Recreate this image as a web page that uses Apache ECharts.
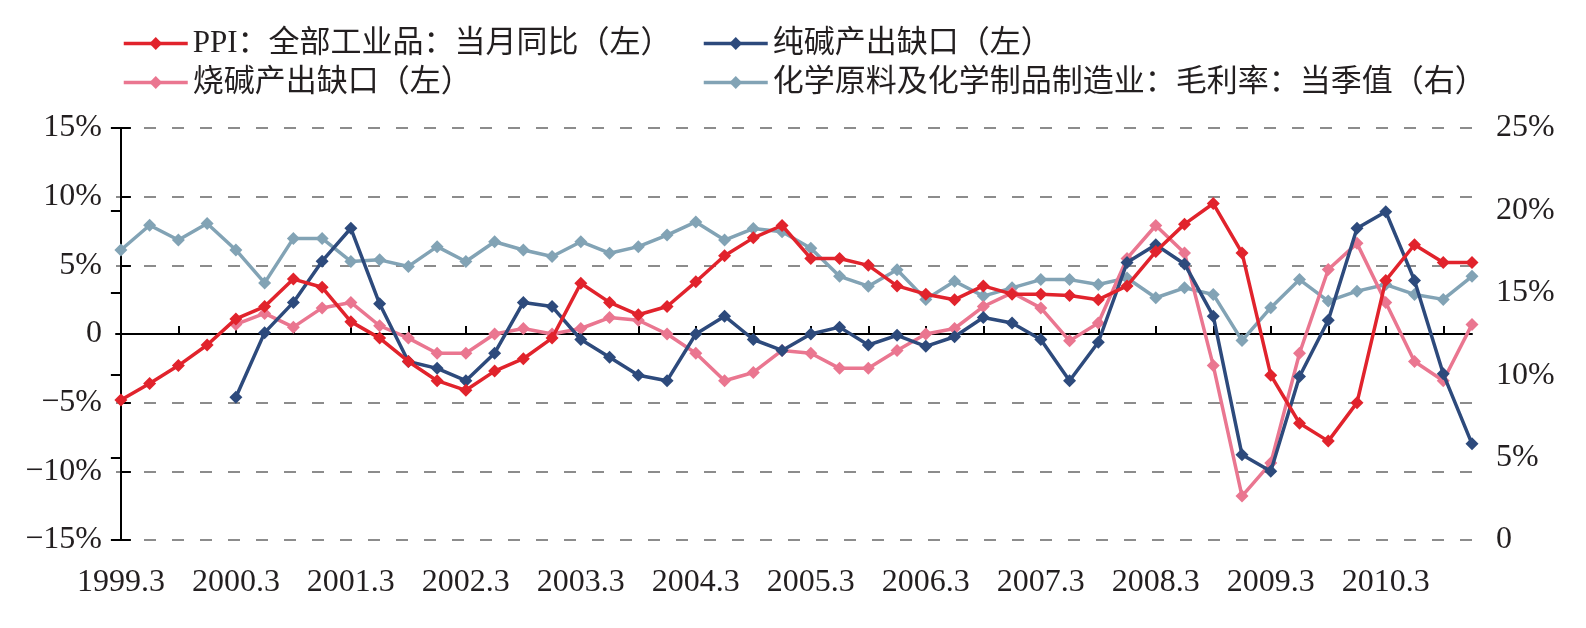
<!DOCTYPE html>
<html>
<head>
<meta charset="utf-8">
<script src="https://cdn.jsdelivr.net/npm/echarts@6/dist/echarts.min.js"></script>
<style>
html, body { margin: 0; padding: 0; background: #fff; }
#main { width: 1586px; height: 628px; }
</style>
</head>
<body>
<div id="main"></div>
<script>
// quarterly points 1999.3 .. 2010.12
var tickLabels = ['1999.3', '2000.3', '2001.3', '2002.3', '2003.3', '2004.3',
  '2005.3', '2006.3', '2007.3', '2008.3', '2009.3', '2010.3'];

var names = [
  'PPI：全部工业品：当月同比（左）',
  '纯碱产出缺口（左）',
  '烧碱产出缺口（左）',
  '化学原料及化学制品制造业：毛利率：当季值（右）'
];

var ppi = [-4.8, -3.6, -2.3, -0.8, 1.1, 2.0, 4.0, 3.4, 0.9, -0.3, -2.0, -3.4,
  -4.1, -2.7, -1.8, -0.3, 3.7, 2.3, 1.4, 2.0, 3.8, 5.7, 7.0, 7.9,
  5.5, 5.5, 5.0, 3.5, 2.9, 2.5, 3.5, 2.9, 2.9, 2.8, 2.5, 3.5,
  6.0, 8.0, 9.5, 5.9, -3.0, -6.5, -7.8, -5.0, 3.9, 6.5, 5.2, 5.2];

var sodaAsh = [null, null, null, null, -4.6, 0.1, 2.3, 5.3, 7.7, 2.2, -2.0, -2.5,
  -3.4, -1.4, 2.3, 2.0, -0.4, -1.7, -3.0, -3.4, 0.0, 1.3, -0.4, -1.2,
  0.0, 0.5, -0.8, -0.1, -0.9, -0.2, 1.2, 0.8, -0.4, -3.4, -0.6, 5.2,
  6.5, 5.1, 1.3, -8.8, -10.0, -3.1, 1.0, 7.7, 8.9, 3.9, -2.9, -8.0];

var causticSoda = [null, null, null, null, 0.7, 1.5, 0.5, 1.9, 2.3, 0.6, -0.3, -1.4,
  -1.4, 0.0, 0.4, 0.0, 0.4, 1.2, 1.0, 0.0, -1.4, -3.4, -2.8, -1.2,
  -1.4, -2.5, -2.5, -1.2, 0.0, 0.4, 2.0, 3.0, 1.9, -0.5, 0.8, 5.5,
  7.9, 5.9, -2.3, -11.8, -9.4, -1.4, 4.7, 6.6, 2.3, -2.0, -3.4, 0.7];

var grossMargin = [17.6, 19.1, 18.2, 19.2, 17.6, 15.6, 18.3, 18.3, 16.9, 17.0, 16.6, 17.8,
  16.9, 18.1, 17.6, 17.2, 18.1, 17.4, 17.8, 18.5, 19.3, 18.2, 18.9, 18.7,
  17.7, 16.0, 15.4, 16.4, 14.6, 15.7, 14.8, 15.3, 15.8, 15.8, 15.5, 15.9,
  14.7, 15.3, 14.9, 12.1, 14.1, 15.8, 14.5, 15.1, 15.5, 14.9, 14.6, 16.0];

var colors = ['#e1232c', '#2d4a7c', '#ea7690', '#82a3b5'];
var fontFamily = '"Liberation Serif", "Noto Sans CJK SC", serif';

function toPoints(arr) {
  var out = [];
  arr.forEach(function (v, i) {
    if (v !== null) out.push([i, v]);
  });
  return out;
}

function pctLabel(v) {
  if (v === 0) return '0';
  return (v < 0 ? '\u2212' + (-v) : v) + '%';
}

var labelIdx = tickLabels.map(function (t, i) { return i * 4; });
var tickIdx = [];
for (var k = 2; k < ppi.length; k += 2) tickIdx.push(k);

function lineSeries(name, arr, color, yIndex, z) {
  return {
    name: name,
    type: 'line',
    yAxisIndex: yIndex,
    data: toPoints(arr),
    symbol: 'diamond',
    symbolSize: 13,
    z: z,
    lineStyle: { color: color, width: 3.5 },
    itemStyle: { color: color }
  };
}

function legendAt(name, left, top) {
  return {
    data: [name],
    left: left,
    top: top,
    itemWidth: 64,
    itemHeight: 16,
    lineStyle: { width: 3.5 },
    textStyle: { fontSize: 31, color: '#231f20', fontFamily: fontFamily }
  };
}

var option = {
  animation: false,
  backgroundColor: '#fff',
  color: colors,
  legend: [
    legendAt(names[0], 117, 23),
    legendAt(names[1], 697, 23),
    legendAt(names[2], 117, 62),
    legendAt(names[3], 697, 62)
  ],
  grid: { left: 116, right: 114, top: 128, bottom: 88 },
  xAxis: [
    {
      type: 'value',
      min: -0.17,
      max: ppi.length - 1,
      position: 'bottom',
      axisLine: { show: false, onZero: false },
      axisTick: { show: false },
      splitLine: { show: false },
      axisLabel: {
        customValues: labelIdx,
        formatter: function (v) { return tickLabels[Math.round(v) / 4]; },
        fontSize: 32,
        color: '#231f20',
        fontFamily: fontFamily,
        margin: 27
      }
    },
    {
      type: 'value',
      min: -0.17,
      max: ppi.length - 1,
      position: 'bottom',
      axisLine: { show: true, onZero: true, onZeroAxisIndex: 0, lineStyle: { color: '#000', width: 2 } },
      axisTick: { show: true, inside: true, length: 8, customValues: tickIdx, lineStyle: { color: '#000', width: 2 } },
      axisLabel: { show: false },
      splitLine: { show: false }
    }
  ],
  yAxis: [
    {
      type: 'value',
      min: -15,
      max: 15,
      interval: 5,
      position: 'left',
      axisLine: { show: true, lineStyle: { color: '#000', width: 2 } },
      axisTick: { show: true, inside: true, length: 10, lineStyle: { color: '#000', width: 2 } },
      axisLabel: { formatter: pctLabel, fontSize: 32, color: '#231f20', fontFamily: fontFamily, margin: 14 },
      splitLine: { show: true, lineStyle: { color: '#8c8c8c', width: 2, type: [12, 16] } }
    },
    {
      type: 'value',
      min: 0,
      max: 25,
      interval: 5,
      position: 'right',
      axisLine: { show: true, lineStyle: { color: '#000', width: 2 } },
      axisTick: { show: true, inside: true, length: 10, lineStyle: { color: '#000', width: 2 } },
      axisLabel: { formatter: pctLabel, fontSize: 32, color: '#231f20', fontFamily: fontFamily, margin: 24 },
      splitLine: { show: false }
    }
  ],
  series: [
    lineSeries(names[0], ppi, colors[0], 0, 5),
    lineSeries(names[1], sodaAsh, colors[1], 0, 4),
    lineSeries(names[2], causticSoda, colors[2], 0, 3),
    lineSeries(names[3], grossMargin, colors[3], 1, 2)
  ]
};

var myChart = echarts.init(document.getElementById('main'));
myChart.setOption(option, true);
</script>
</body>
</html>
